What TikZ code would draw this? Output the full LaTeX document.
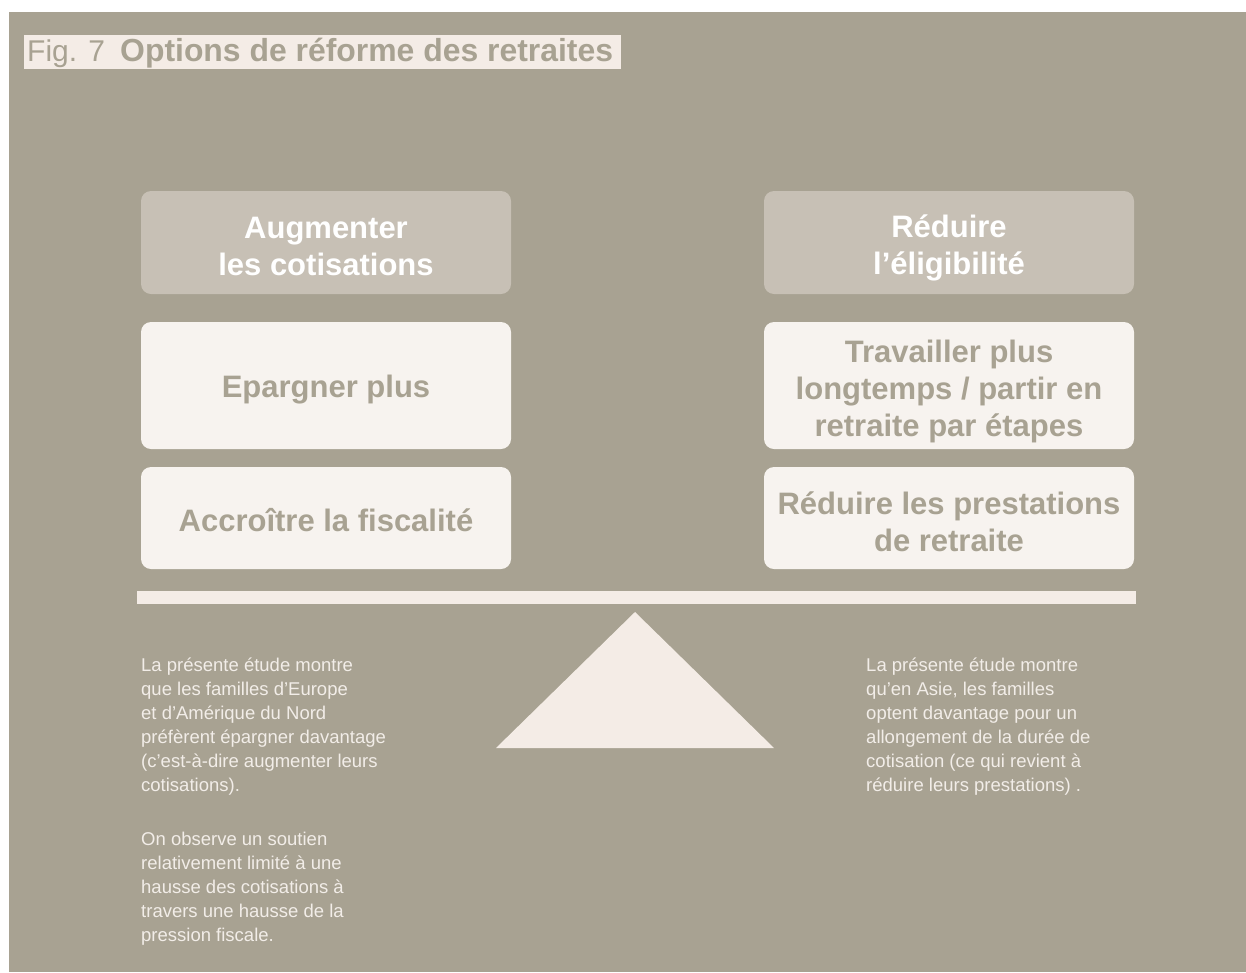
\documentclass[tikz,border=0pt]{standalone}
\usepackage{fontspec}
\setmainfont{Liberation Sans}
\begin{document}
\definecolor{panel}{RGB}{168,162,146}
\definecolor{headfill}{RGB}{199,192,181}
\definecolor{cardfill}{RGB}{247,243,239}
\definecolor{cream}{RGB}{244,236,230}
\definecolor{notetext}{RGB}{242,237,232}
\begin{tikzpicture}[x=1pt,y=-1pt,
  headbox/.style={fill=headfill, rounded corners=10pt, minimum width=370pt, minimum height=103pt, inner sep=0pt},
  cardbox/.style={fill=cardfill, rounded corners=10pt, minimum width=370pt, inner sep=0pt},
  headtext/.style={inner sep=0pt, align=center, text=white, font=\bfseries\fontsize{31}{37}\selectfont},
  cardtext/.style={inner sep=0pt, align=center, text=panel, font=\bfseries\fontsize{31}{37}\selectfont},
  note/.style={anchor=north west, inner sep=0pt, align=left, text=notetext,
    font=\fontsize{18.5}{24}\selectfont}]
  % canvas and panel
  \useasboundingbox (0,0) rectangle (1246,972);
  \fill[white] (0,0) rectangle (1246,972);
  \fill[panel] (9,12) rectangle (1246,972);
  % title strip
  \node[fill=cream, anchor=north west, minimum width=597pt, minimum height=34pt, inner sep=0pt] (titlebar) at (24,35) {};
  \node[anchor=base west, inner sep=0pt, text=panel, font=\fontsize{30}{36}\selectfont] (fignum) at (27,61) {Fig. 7};
  \node[anchor=base west, inner sep=0pt, text=panel, font=\bfseries\fontsize{31.9}{36}\selectfont] (title) at (120,61) {Options de réforme des retraites};
  % left column
  \node[headbox] (lhead) at (326,242.5) {};
  \node[cardbox, minimum height=127pt] (lsave) at (326,385.5) {};
  \node[cardbox, minimum height=102pt] (ltax) at (326,518) {};
  \node[headtext] at ([yshift=-4pt]lhead.center) {Augmenter\\les cotisations};
  \node[cardtext] at ([yshift=-4pt]lsave.center) {Epargner plus};
  \node[cardtext] at ([yshift=-2.5pt]ltax.center) {Accroître la fiscalité};
  % right column
  \node[headbox] (rhead) at (949,242.5) {};
  \node[cardbox, minimum height=127pt] (rwork) at (949,385.5) {};
  \node[cardbox, minimum height=102pt] (rcut) at (949,518) {};
  \node[headtext] at ([yshift=-5.5pt]rhead.center) {Réduire\\l’éligibilité};
  \node[cardtext] at ([yshift=-6pt]rwork.center) {Travailler plus\\longtemps / partir en\\retraite par étapes};
  \node[cardtext] at ([yshift=-4pt]rcut.center) {Réduire les prestations\\de retraite};
  % balance beam and fulcrum
  \fill[cream] (137,591) rectangle (1136,604);
  \fill[cream] (635,612) -- (774,748) -- (496,748) -- cycle;
  % notes
  \node[note] (lnote1) at (141,657.5) {La présente étude montre\\que les familles d’Europe\\et d’Amérique du Nord\\préfèrent épargner davantage\\(c’est-à-dire augmenter leurs\\cotisations).};
  \node[note] (lnote2) at (141,831.5) {On observe un soutien\\relativement limité à une\\hausse des cotisations à\\travers une hausse de la\\pression fiscale.};
  \node[note] (rnote) at (866,657.5) {La présente étude montre\\qu’en Asie, les familles\\optent davantage pour un\\allongement de la durée de\\cotisation (ce qui revient à\\réduire leurs prestations) .};
\end{tikzpicture}
\end{document}
